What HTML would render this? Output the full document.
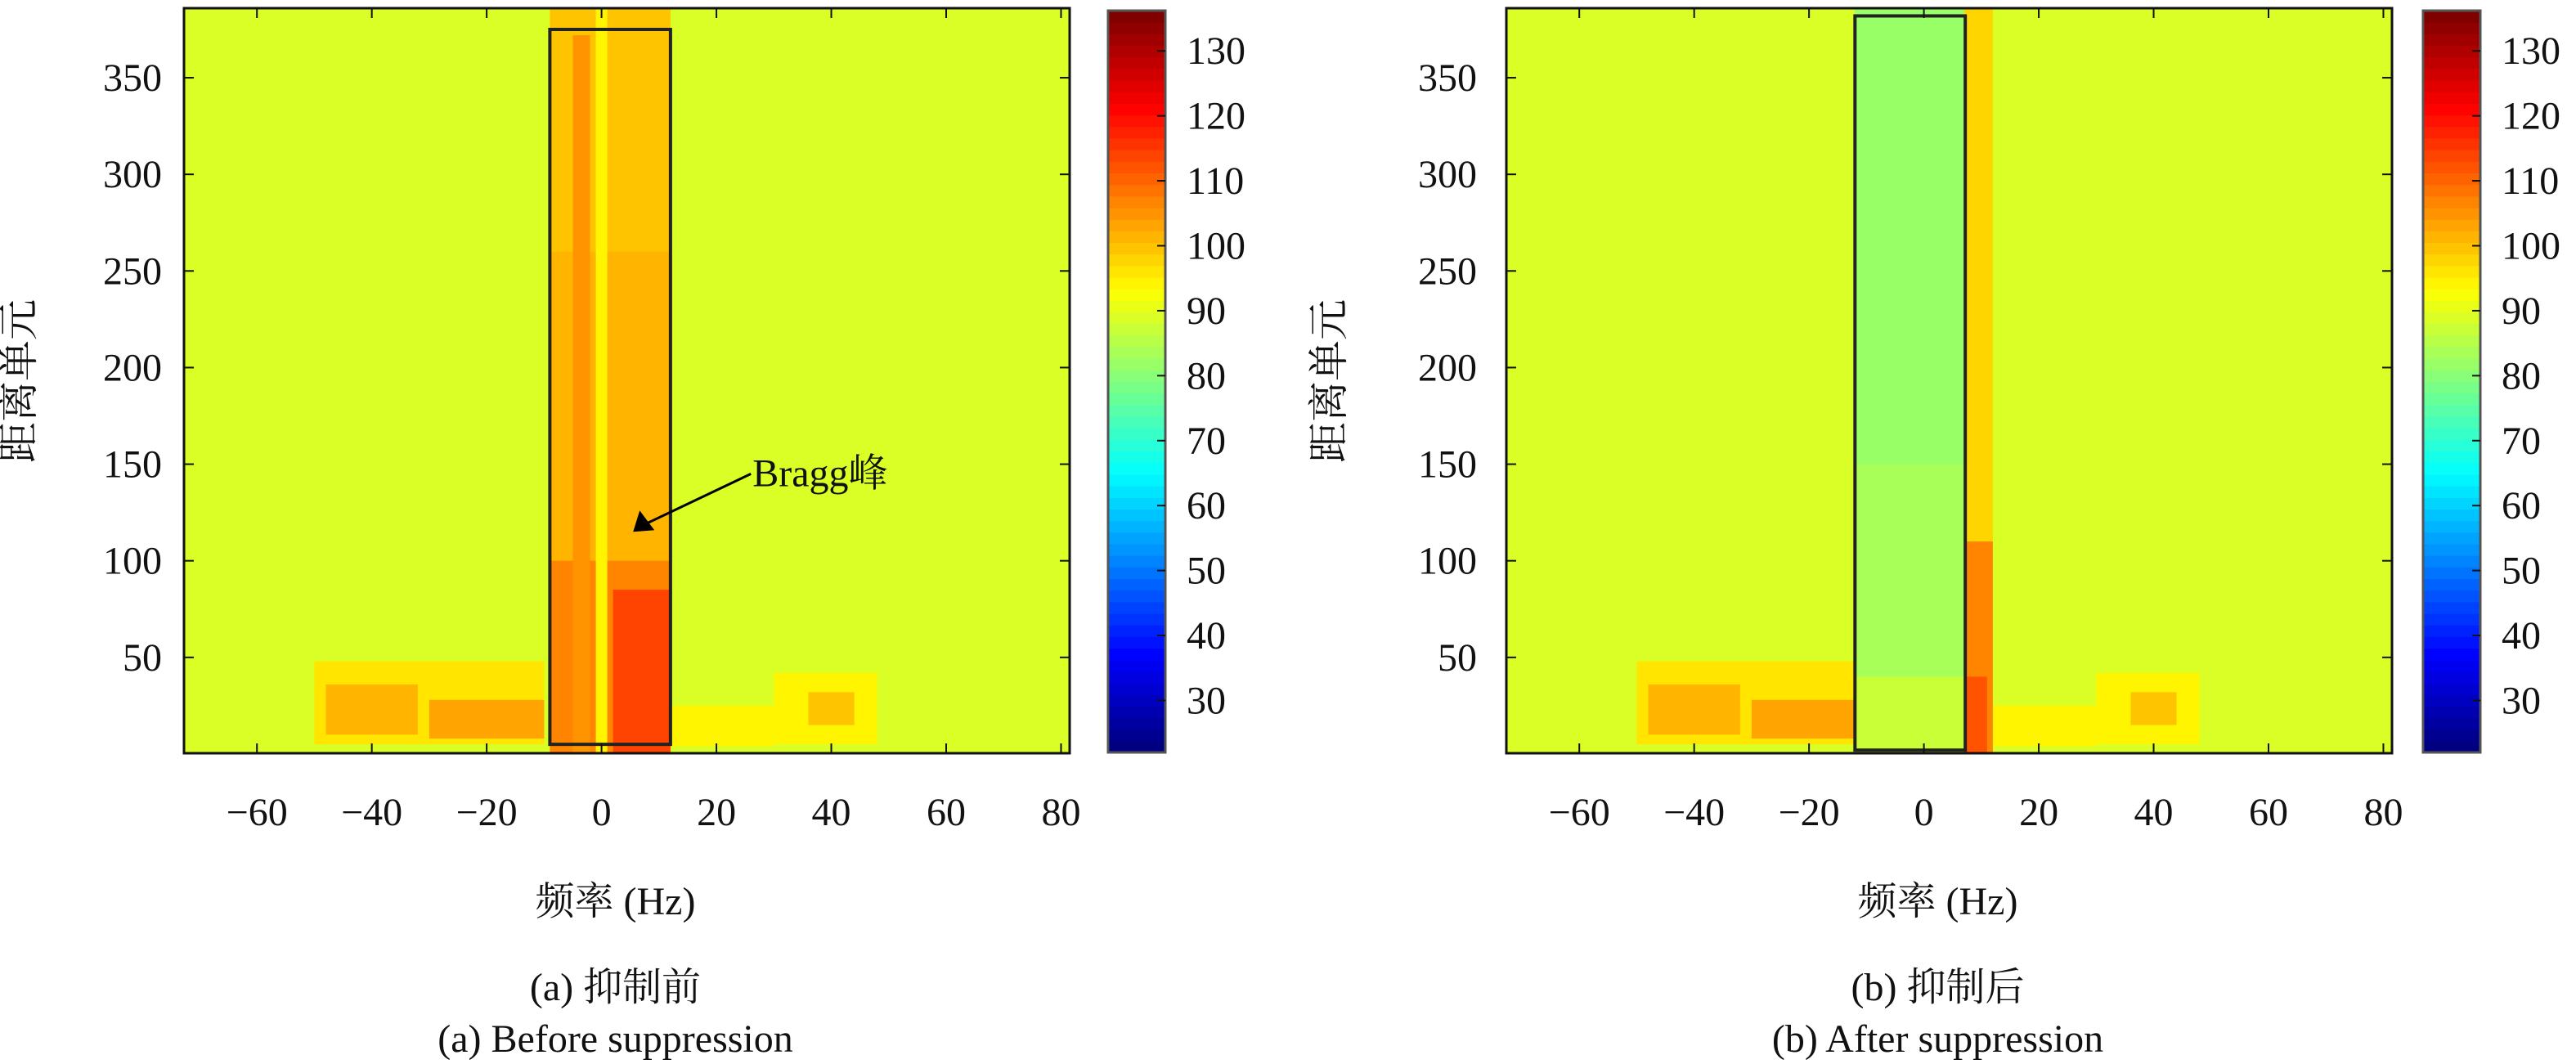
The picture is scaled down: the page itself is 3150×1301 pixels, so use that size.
<!DOCTYPE html>
<html><head><meta charset="utf-8"><style>
html,body{margin:0;padding:0;background:#fff}
svg{display:block}
text{font-family:"Liberation Serif","Noto Serif CJK SC",serif;fill:#111}
</style></head><body>
<svg id="fig" width="3150" height="1301" viewBox="0 0 3150 1301"></svg>
<script>
const xTicks=[-60,-40,-20,0,20,40,60,80];
const yTicks=[50,100,150,200,250,300,350];
const cbTicks=[30,40,50,60,70,80,90,100,110,120,130];
const bgLevelA=89.2;
const bgLevelB=88.7;
// patches: [f0,f1,r0,r1,value]
const patchesA=[[-50,-10,5,48,96],[-48,-32,10,36,102],[-30,-10,8,28,103],[12,30,4,25,94],[30,48,5,42,95],[36,44,15,32,100],
[-9,12,0,386,100],[-9,12,100,260,102],[-9,12,0,100,107],[2,12,0,85,114],[-5,-2,0,372,105],[-1,1,0,386,94]];
const patchesB=[[-50,-10,5,48,96],[-48,-32,10,36,102],[-30,-10,8,28,103],[12,30,4,25,94],[30,48,5,42,95],[36,44,15,32,100],
[-12,7,0,386,84],[-12,7,150,386,82],[-12,7,0,40,88],[7,12,0,386,97],[7,12,0,110,106],[7,11,0,40,112]];
const boxA=[-9,12,5,375];
const boxB=[-12,7.2,2,382];

const NS="http://www.w3.org/2000/svg";
const svg=document.getElementById('fig');
function el(t,a,p){const e=document.createElementNS(NS,t);for(const k in a)e.setAttribute(k,a[k]);(p||svg).appendChild(e);return e;}
const CMIN=22,CMAX=136.2;
function jet(v){let t=(v-CMIN)/(CMAX-CMIN);t=Math.max(0,Math.min(1,t));t=Math.floor(t*64)/63;
 const c=x=>Math.round(255*Math.max(0,Math.min(1,x)));
 return `rgb(${c(1.5-Math.abs(4*t-3))},${c(1.5-Math.abs(4*t-2))},${c(1.5-Math.abs(4*t-1))})`;}

function panel(id,px0,px1,cbx,bg,patches,box,cn,en,yLabX,tickRight,arrow){
 const py0=10,py1=921,xmin=-72.7,xmax=81.5,ymin=0.4,ymax=386;
 const X=v=>px0+(v-xmin)/(xmax-xmin)*(px1-px0);
 const Y=v=>py1-(v-ymin)/(ymax-ymin)*(py1-py0);
 const g=el('g',{});
 
 
 const clip=el('clipPath',{id:'c'+id},g);el('rect',{x:px0,y:py0,width:px1-px0,height:py1-py0},clip);
 const hg=el('g',{'clip-path':`url(#c${id})`},g);
 el('rect',{x:px0,y:py0,width:px1-px0,height:py1-py0,fill:jet(bg)},hg);
 patches.forEach(p=>{const r=el('rect',{x:X(p[0]),y:Y(p[3]),width:X(p[1])-X(p[0]),height:Y(p[2])-Y(p[3]),fill:jet(p[4])},hg);
  
  });
 const b=el('rect',{x:X(box[0]),y:Y(box[3]),width:X(box[1])-X(box[0]),height:Y(box[2])-Y(box[3]),fill:'none',stroke:'#222',"stroke-width":4},g);
 
 
 el('rect',{x:px0,y:py0,width:px1-px0,height:py1-py0,fill:'none',stroke:'#111','stroke-width':3},g);
 xTicks.forEach(t=>{const x=X(t);el('line',{x1:x,x2:x,y1:py1,y2:py1-12,stroke:'#111','stroke-width':2},g);el('line',{x1:x,x2:x,y1:py0,y2:py0+12,stroke:'#111','stroke-width':2},g);
  const tx=el('text',{x:x,y:1009,'text-anchor':'middle','font-size':48},g);tx.textContent=(t<0?'−':'')+Math.abs(t);
  
  });
 yTicks.forEach(t=>{const y=Y(t);el('line',{x1:px0,x2:px0+12,y1:y,y2:y,stroke:'#111','stroke-width':2},g);el('line',{x1:px1,x2:px1-12,y1:y,y2:y,stroke:'#111','stroke-width':2},g);
  const tx=el('text',{x:tickRight,y:y+16,'text-anchor':'end','font-size':48},g);tx.textContent=t;
  
  });
 const yl=el('text',{transform:`translate(${yLabX},466) rotate(-90)`,'text-anchor':'middle','font-size':50},g);yl.textContent='距离单元';
 
 
 const cx=(px0+px1)/2-14;
 const xl=el('text',{x:cx,y:1118,'text-anchor':'middle','font-size':48},g);xl.textContent='频率 (Hz)';
 
 
 const c1=el('text',{x:cx,y:1223,'text-anchor':'middle','font-size':48},g);c1.textContent=cn;
 
 
 const c2=el('text',{x:cx,y:1286,'text-anchor':'middle','font-size':48},g);c2.textContent=en;
 
 
 const cb=el('g',{},g);
 
 
 const cy0=13,cy1=920,C=v=>cy1-(v-CMIN)/(CMAX-CMIN)*(cy1-cy0);
 for(let i=0;i<64;i++){const v0=CMIN+i*(CMAX-CMIN)/64,v1=CMIN+(i+1)*(CMAX-CMIN)/64;
  el('rect',{x:cbx,y:C(v1),width:70,height:C(v0)-C(v1)+0.6,fill:jet((v0+v1)/2)},cb);}
 el('rect',{x:cbx,y:cy0,width:70,height:cy1-cy0,fill:'none',stroke:'#555','stroke-width':3},cb);
 cbTicks.forEach(t=>{const y=C(t);el('line',{x1:cbx+70,x2:cbx+60,y1:y,y2:y,stroke:'#111','stroke-width':2},cb);
  const tx=el('text',{x:cbx+96,y:y+16,'font-size':48},cb);tx.textContent=t;
  
  });
 if(arrow){const a=el('g',{},g);
  
  
  el('line',{x1:X(arrow[2]),y1:Y(arrow[3]),x2:X(arrow[0])+14,y2:Y(arrow[1])-9,stroke:'#000','stroke-width':3},a);
  const tx=X(arrow[0]),ty=Y(arrow[1]);
  el('polygon',{points:`${tx},${ty} ${tx+8},${ty-26} ${tx+26},${ty-2}`,fill:'#000'},a);
  const t=el('text',{x:X(arrow[2])+2,y:Y(arrow[3])+15,'font-size':48},a);t.textContent='Bragg峰';}
}
panel('a',225,1308,1355,bgLevelA,patchesA,boxA,'(a) 抑制前','(a) Before suppression',40,198,[5.5,115,26,145]);
panel('b',1842,2925,2963,bgLevelB,patchesB,boxB,'(b) 抑制后','(b) After suppression',1642,1806,null);
</script>
</body></html>
